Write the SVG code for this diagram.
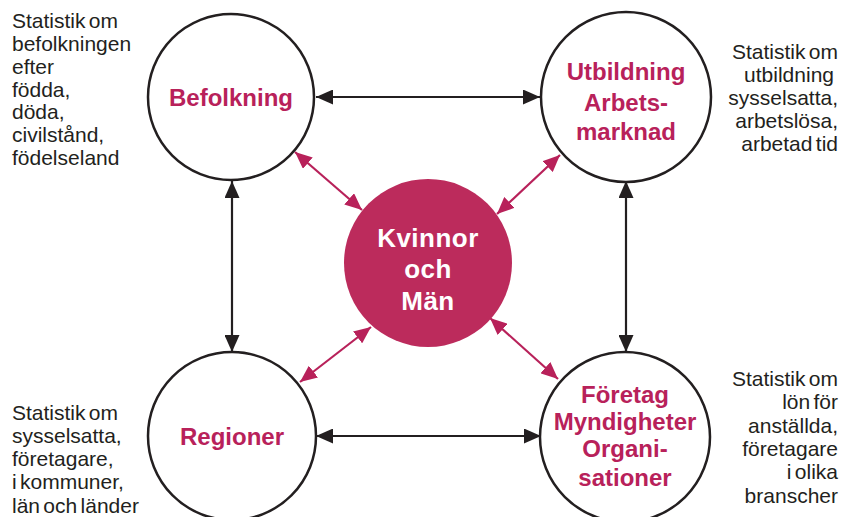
<svg xmlns="http://www.w3.org/2000/svg" width="842" height="517" viewBox="0 0 842 517">
<style>
.node{fill:#fff;stroke:#231f20;stroke-width:2.5}
.lbl{font-family:"Liberation Sans",Arial,sans-serif;font-weight:bold;font-size:24px;fill:#b8215a;text-anchor:middle}
.ctr{font-family:"Liberation Sans",Arial,sans-serif;font-weight:bold;font-size:26px;fill:#fff;text-anchor:middle;letter-spacing:0.5px}
.side{font-family:"Liberation Sans",Arial,sans-serif;font-size:21px;fill:#231f20;word-spacing:-2.5px}
.r{text-anchor:end}
.blk{stroke:#231f20;stroke-width:2.2;fill:none;marker-start:url(#ab);marker-end:url(#ab)}
.pnk{stroke:#b8215a;stroke-width:2.2;fill:none;marker-start:url(#ap);marker-end:url(#ap)}
</style>
<defs>
<marker id="ab" viewBox="0 0 17 15" refX="17" refY="7.5" markerWidth="17" markerHeight="15" markerUnits="userSpaceOnUse" orient="auto-start-reverse"><path d="M0,0 L17,7.5 L0,15 z" fill="#231f20"/></marker>
<marker id="ap" viewBox="0 0 17 15" refX="17" refY="7.5" markerWidth="17" markerHeight="15" markerUnits="userSpaceOnUse" orient="auto-start-reverse"><path d="M0,0 L17,7.5 L0,15 z" fill="#b8215a"/></marker>
</defs>
<g id="connectors">
<line class="blk" x1="316" y1="97" x2="540" y2="97"/>
<line class="blk" x1="316" y1="436" x2="541" y2="436"/>
<line class="blk" x1="232" y1="181" x2="232" y2="352"/>
<line class="blk" x1="626" y1="181" x2="626" y2="352"/>
<line class="pnk" x1="295" y1="152" x2="362" y2="210"/>
<line class="pnk" x1="560" y1="155" x2="497" y2="214"/>
<line class="pnk" x1="300" y1="382" x2="371" y2="327"/>
<line class="pnk" x1="558" y1="379" x2="490" y2="318"/>
</g>
<g id="befolkning">
<circle class="node" cx="231" cy="97" r="83"/>
<text class="lbl" x="231" y="106">Befolkning</text>
</g>
<g id="utbildning">
<circle class="node" cx="626" cy="97" r="85"/>
<text class="lbl" x="626" y="80">Utbildning</text>
<text class="lbl" x="626" y="111">Arbets-</text>
<text class="lbl" x="626" y="140">marknad</text>
</g>
<g id="regioner">
<circle class="node" cx="232" cy="436" r="84"/>
<text class="lbl" x="232" y="445">Regioner</text>
</g>
<g id="foretag">
<circle class="node" cx="625" cy="437" r="85"/>
<text class="lbl" x="625" y="403">Företag</text>
<text class="lbl" x="625" y="430">Myndigheter</text>
<text class="lbl" x="625" y="457">Organi-</text>
<text class="lbl" x="625" y="486">sationer</text>
</g>
<g id="kvinnor">
<circle cx="428" cy="263" r="84" fill="#bc2b5c"/>
<text class="ctr" x="428" y="247">Kvinnor</text>
<text class="ctr" x="428" y="278">och</text>
<text class="ctr" x="428" y="310">Män</text>
</g>
<g id="text-befolkning">
<text class="side" x="12" y="28">Statistik om</text>
<text class="side" x="12" y="51">befolkningen</text>
<text class="side" x="12" y="74">efter</text>
<text class="side" x="12" y="97">födda,</text>
<text class="side" x="12" y="119">döda,</text>
<text class="side" x="12" y="142">civilstånd,</text>
<text class="side" x="12" y="165">födelseland</text>
</g>
<g id="text-utbildning">
<text class="side r" x="838" y="59">Statistik om</text>
<text class="side r" x="834" y="82">utbildning</text>
<text class="side r" x="838" y="105">sysselsatta,</text>
<text class="side r" x="838" y="128">arbetslösa,</text>
<text class="side r" x="838" y="151">arbetad tid</text>
</g>
<g id="text-regioner">
<text class="side" x="12" y="420">Statistik om</text>
<text class="side" x="12" y="443">sysselsatta,</text>
<text class="side" x="12" y="466">företagare,</text>
<text class="side" x="12" y="489">i kommuner,</text>
<text class="side" x="12" y="513">län och länder</text>
</g>
<g id="text-foretag">
<text class="side r" x="838" y="386">Statistik om</text>
<text class="side r" x="838" y="409">lön för</text>
<text class="side r" x="838" y="433">anställda,</text>
<text class="side r" x="838" y="456">företagare</text>
<text class="side r" x="838" y="479">i olika</text>
<text class="side r" x="838" y="503">branscher</text>
</g>
</svg>
